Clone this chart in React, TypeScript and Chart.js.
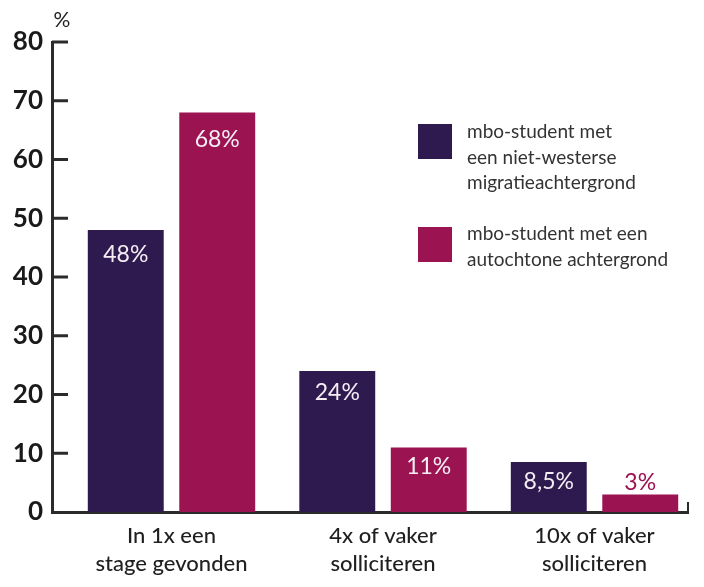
import React, { useEffect, useRef } from "react";
import { Chart, registerables } from "chart.js";

Chart.register(...registerables);

const categories: string[][] = [
  ["In 1x een", "stage gevonden"],
  ["4x of vaker", "solliciteren"],
  ["10x of vaker", "solliciteren"],
];
const seriesNames: string[][] = [
  ["mbo-student met", "een niet-westerse", "migratieachtergrond"],
  ["mbo-student met een", "autochtone achtergrond"],
];
const migratieValues = [48, 24, 8.5];
const autochtoonValues = [68, 11, 3];
const yTicks = [0, 10, 20, 30, 40, 50, 60, 70, 80];
const unitLabel = "%";

const COLORS = ["#2f1a4f", "#9c1352"];
const FONT = "Lato, 'Open Sans', sans-serif";
const AXIS = "#2b2b2b";

const fmt = (v: number) => String(v).replace(".", ",") + "%";

const decorPlugin = {
  id: "decor",
  afterDraw(chart: any) {
    const ctx = chart.ctx;
    const area = chart.chartArea;
    const y = chart.scales.y;
    ctx.save();
    ctx.strokeStyle = AXIS;
    ctx.lineWidth = 3;
    yTicks.forEach((t) => {
      if (t === 0) return;
      const py = y.getPixelForValue(t);
      ctx.beginPath();
      ctx.moveTo(area.left, py);
      ctx.lineTo(area.left + 16, py);
      ctx.stroke();
    });
    ctx.lineWidth = 2;
    ctx.beginPath();
    ctx.moveTo(area.right, area.bottom + 1);
    ctx.lineTo(area.right, area.bottom - 10);
    ctx.stroke();
    ctx.fillStyle = "#222";
    ctx.font = `400 21px ${FONT}`;
    ctx.textAlign = "center";
    ctx.textBaseline = "middle";
    ctx.fillText(unitLabel, area.left + 10, area.top - 22);
    ctx.restore();
  },
  afterDatasetsDraw(chart: any) {
    const ctx = chart.ctx;
    ctx.save();
    ctx.font = `400 23px ${FONT}`;
    ctx.textAlign = "center";
    ctx.textBaseline = "middle";
    chart.data.datasets.forEach((ds: any, di: number) => {
      const meta = chart.getDatasetMeta(di);
      meta.data.forEach((bar: any, i: number) => {
        const v = ds.data[i].y;
        const h = bar.base - bar.y;
        if (h < 40) {
          ctx.fillStyle = COLORS[di];
          ctx.fillText(fmt(v), bar.x, bar.y - 12);
        } else {
          ctx.fillStyle = "#f4eef4";
          ctx.fillText(fmt(v), bar.x, bar.y + Math.min(27, 18 + h / 40));
        }
      });
    });
    ctx.restore();
  },
};

export default function App() {
  const ref = useRef<HTMLCanvasElement>(null);
  useEffect(() => {
    if (!ref.current) return;
    const chart = new Chart(ref.current, {
      type: "bar",
      data: {
        datasets: [
          {
            label: seriesNames[0].join(" "),
            data: migratieValues.map((v, i) => ({ x: i, y: v })),
            backgroundColor: COLORS[0],
          },
          {
            label: seriesNames[1].join(" "),
            data: autochtoonValues.map((v, i) => ({ x: i, y: v })),
            backgroundColor: COLORS[1],
          },
        ],
      },
      options: {
        responsive: false,
        animation: false,
        categoryPercentage: 0.865,
        barPercentage: 0.83,
        layout: { padding: { top: 42, right: 16, left: 0, bottom: 0 } },
        plugins: { legend: { display: false }, tooltip: { enabled: false } },
        scales: {
          x: {
            type: "linear",
            min: -0.565,
            max: 2.442,
            bounds: "data",
            offset: false,
            grid: { display: false, drawTicks: false, offset: false },
            border: { display: true, color: AXIS, width: 3 },
            afterFit: (s: any) => {
              s.height = 75;
            },
            afterBuildTicks: (s: any) => {
              s.ticks = categories.map((_, i) => ({ value: i }));
            },
            ticks: {
              padding: 10,
              color: "#1f1f1f",
              font: { family: FONT, size: 22, weight: "500", lineHeight: 1.27 },
              callback: (v: any) => categories[Math.round(Number(v))] ?? "",
            },
          },
          y: {
            min: 0,
            max: 80,
            grid: { display: false, drawTicks: false },
            border: { display: true, color: AXIS, width: 3 },
            afterFit: (s: any) => {
              s.width = 52;
            },
            afterBuildTicks: (s: any) => {
              s.ticks = yTicks.map((t) => ({ value: t }));
            },
            ticks: {
              padding: 9,
              color: "#1a1a1a",
              font: { family: FONT, size: 26, weight: "bold" },
            },
          },
        },
      } as any,
      plugins: [decorPlugin],
    });
    return () => chart.destroy();
  }, []);

  const legendText: React.CSSProperties = {
    position: "absolute",
    left: 467,
    fontFamily: FONT,
    fontSize: 19,
    lineHeight: "25.5px",
    color: "#333",
    whiteSpace: "nowrap",
  };
  const square = (top: number, color: string): React.CSSProperties => ({
    position: "absolute",
    left: 418,
    top,
    width: 34,
    height: 35,
    background: color,
  });

  return (
    <div style={{ position: "fixed", left: 0, top: 0, width: 704, height: 587, background: "#fff" }}>
      <canvas ref={ref} width={704} height={587} style={{ display: "block" }} />
      <div style={square(124, COLORS[0])} />
      <div style={{ ...legendText, top: 118 }}>
        {seriesNames[0].map((l, i) => (
          <div key={i}>{l}</div>
        ))}
      </div>
      <div style={square(227, COLORS[1])} />
      <div style={{ ...legendText, top: 220 }}>
        {seriesNames[1].map((l, i) => (
          <div key={i}>{l}</div>
        ))}
      </div>
    </div>
  );
}
